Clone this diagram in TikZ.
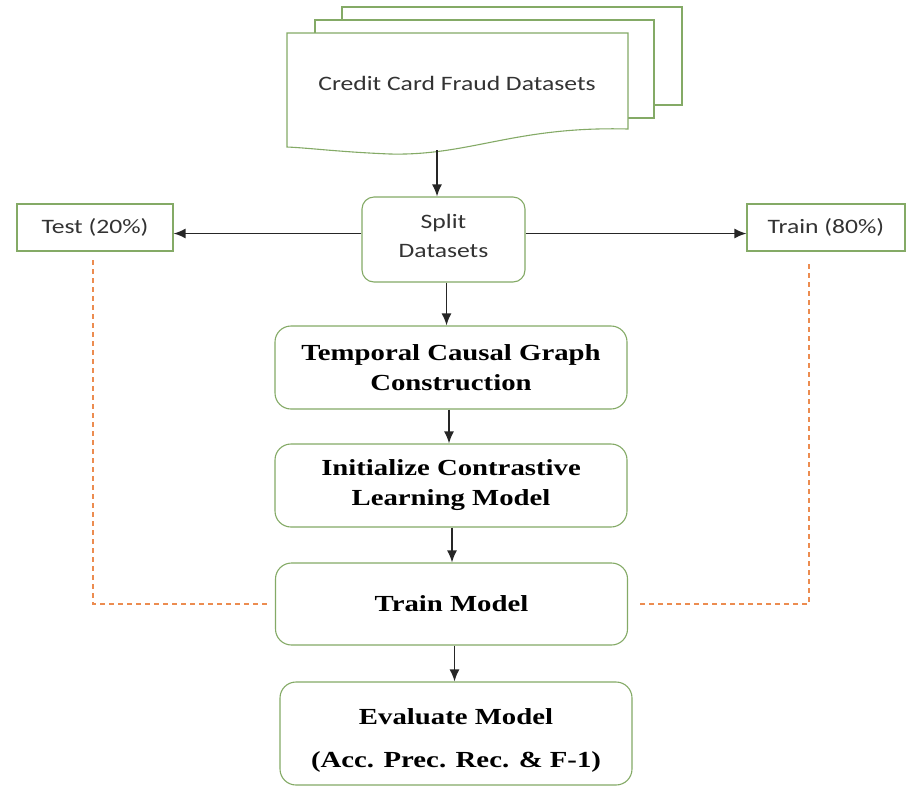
\documentclass[tikz,border=0pt]{standalone}
\usepackage{fontspec}
\usepackage{tikz}
\usetikzlibrary{arrows.meta,calc}
\newfontfamily\labelfont[FakeStretch=1.25]{Carlito}
\newfontfamily\stepfont[FakeStretch=1.25,BoldFont={Liberation Serif Bold}]{Liberation Serif}
\definecolor{boxgreen}{RGB}{132,170,102}
\definecolor{linkorange}{RGB}{236,140,80}

\begin{document}
\begin{tikzpicture}[x=1pt,y=-1pt]
  \tikzset{
    flow/.style={-{Latex[length=12pt,width=10pt]},line width=1.6pt,black!85},
    splitbox/.style={draw=boxgreen,line width=1.1pt,rounded corners=12pt,fill=white,
      align=center,font=\labelfont\fontsize{20.5}{29}\selectfont,text=black!80,inner sep=0pt},
    partbox/.style={draw=boxgreen,line width=1.1pt,fill=white,inner sep=0pt,
      font=\labelfont\fontsize{20.5}{24}\selectfont,text=black!80},
    stepbox/.style={draw=boxgreen,line width=1.1pt,rounded corners=16pt,fill=white,
      align=center,font=\stepfont\bfseries\fontsize{23}{30}\selectfont,inner sep=0pt,
      minimum width=352pt,minimum height=83pt},
    dashlink/.style={linkorange,line width=1.2pt,dash pattern=on 5pt off 4pt}
  }
  \useasboundingbox (0,0) rectangle (912,788);

 % dataset document stack
  \draw[boxgreen,line width=1.1pt,fill=white] (342,7) rectangle (682,105);
  \draw[boxgreen,line width=1.1pt,fill=white] (315,20) rectangle (654,118);
  \draw[boxgreen,line width=1.1pt,fill=white] (287,33) -- (628,33) -- (628,129)
    .. controls (515,126) and (470,156) .. (390,154)
    .. controls (340,152) and (310,148) .. (287,147) -- cycle;
  \node[font=\labelfont\fontsize{20.5}{24}\selectfont,text=black!80] (data) at (457,83) {Credit Card Fraud Datasets};
  \coordinate (databot) at (437,150);

% nodes
  \node[splitbox,minimum width=163pt,minimum height=85pt] (split) at (443.5,239.5) {Split\\Datasets\\[-22pt]};
  \node[partbox,minimum width=156pt,minimum height=47pt] (test) at (95,227.5) {Test (20\%)};
  \node[partbox,minimum width=158pt,minimum height=47pt] (train) at (826,227.5) {Train (80\%)};
  \node[stepbox] (graph) at (451,367.5) {Temporal Causal Graph\\Construction};
  \node[stepbox] (init) at (451,485.5) {Initialize Contrastive\\Learning Model};
  \node[stepbox,minimum height=82pt] (fit) at (451.5,604) {Train Model};
  \node[stepbox,minimum height=103pt] (eval) at (456,733.5) {\rule{0pt}{30pt}Evaluate Model\\[13pt](Acc. Prec. Rec. \& F-1)};

% arrows
  \draw[flow] (databot) -- (databot |- split.north);
  \draw[flow] ([yshift=6pt]split.west) -- ([yshift=6pt]split.west -| test.east);
  \draw[flow] ([yshift=6pt]split.east) -- ([yshift=6pt]split.east -| train.west);
  \draw[flow] ([xshift=3pt]split.south) -- ([xshift=3pt]split.south |- graph.north);
  \draw[flow] ([xshift=-2pt]graph.south) -- ([xshift=-2pt]graph.south |- init.north);
  \draw[flow] ([xshift=1pt]init.south) -- ([xshift=1pt]init.south |- fit.north);
  \draw[flow] ([xshift=3pt]fit.south) -- ([xshift=3pt]fit.south |- eval.north);

% dashed links
  \coordinate (ltop) at (93,260);
  \coordinate (rtop) at (809,264);
  \draw[dashlink] (ltop) -- (ltop |- fit.west) -- ([xshift=-8pt]fit.west);
  \draw[dashlink] (rtop) -- (rtop |- fit.east) -- ([xshift=10pt]fit.east);
\end{tikzpicture}
\end{document}
